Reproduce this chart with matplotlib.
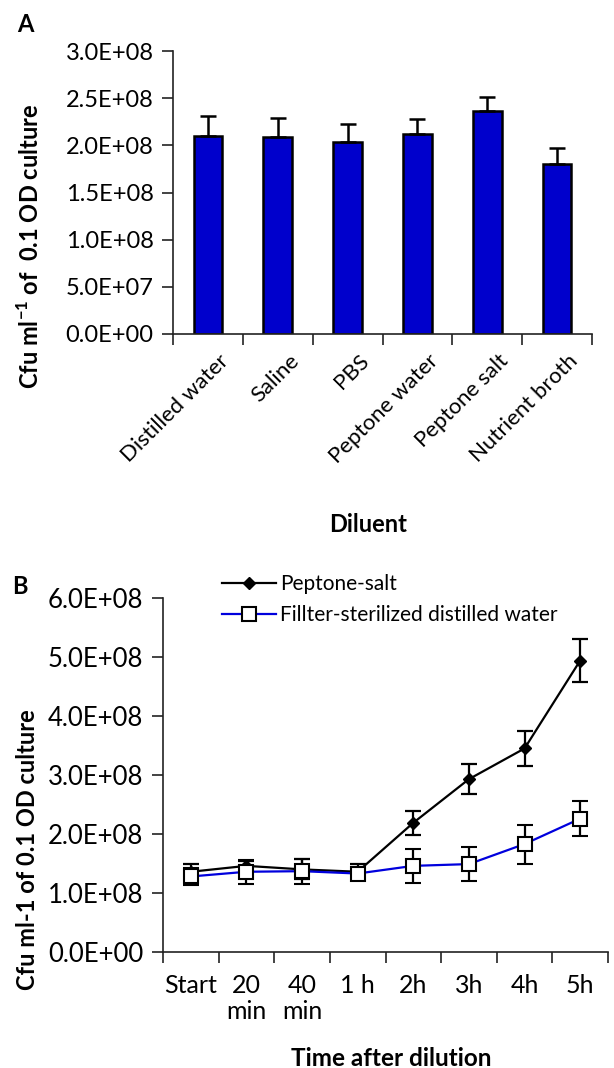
import matplotlib
matplotlib.use("Agg")
import matplotlib.pyplot as plt
import matplotlib.transforms as mtransforms
from matplotlib.ticker import FixedLocator, NullFormatter

plt.rcParams['font.family'] = ['Lato', 'DejaVu Sans']
plt.rcParams['mathtext.fontset'] = 'custom'
plt.rcParams['mathtext.bf'] = 'Lato:bold'
plt.rcParams['mathtext.rm'] = 'Lato'

# panel A: diluent comparison
diluents = ["Distilled water", "Saline", "PBS", "Peptone water", "Peptone salt", "Nutrient broth"]
cfu_diluent = [2.10e8, 2.09e8, 2.04e8, 2.12e8, 2.36e8, 1.80e8]
cfu_diluent_err = [0.21e8, 0.20e8, 0.19e8, 0.16e8, 0.15e8, 0.17e8]

# panel B: time course after dilution
time_labels = ["Start", "20\nmin", "40\nmin", "1 h", "2h", "3h", "4h", "5h"]
peptone_salt = [1.36e8, 1.46e8, 1.40e8, 1.36e8, 2.19e8, 2.93e8, 3.45e8, 4.94e8]
peptone_salt_err = [0.14e8, 0.08e8, 0.17e8, 0.14e8, 0.20e8, 0.25e8, 0.30e8, 0.37e8]
dist_water = [1.28e8, 1.36e8, 1.37e8, 1.33e8, 1.46e8, 1.49e8, 1.83e8, 2.26e8]
dist_water_err = [0.15e8, 0.20e8, 0.21e8, 0.05e8, 0.29e8, 0.29e8, 0.33e8, 0.30e8]

W, H = 614, 1068
fig = plt.figure(figsize=(W / 100, H / 100), dpi=100)


def frac_box(left, top, right, bottom):
    return [left / W, 1 - bottom / H, (right - left) / W, (bottom - top) / H]


def style_axes(ax, n, ylabelsize):
    for s in ("top", "right"):
        ax.spines[s].set_visible(False)
    for s in ("left", "bottom"):
        ax.spines[s].set_linewidth(1.2)
        ax.spines[s].set_color("#222222")
    ax.set_xlim(-0.5, n - 0.5)
    ax.xaxis.set_major_locator(FixedLocator([i - 0.5 for i in range(n + 1)]))
    ax.xaxis.set_major_formatter(NullFormatter())
    ax.xaxis.set_minor_locator(FixedLocator(list(range(n))))
    ax.tick_params(axis="x", which="major", length=8, width=1.2, direction="out", color="#222222")
    ax.tick_params(axis="x", which="minor", length=0)
    ax.tick_params(axis="y", length=8, width=1.2, direction="out", color="#222222",
                   labelsize=ylabelsize, pad=6)


# ---- panel A
axA = fig.add_axes(frac_box(173, 51, 592, 334))
xa = list(range(len(diluents)))
axA.bar(xa, cfu_diluent, width=0.41, color="#0000CC", edgecolor="black", linewidth=1.8,
        yerr=[[0] * len(xa), cfu_diluent_err], capsize=6,
        error_kw=dict(elinewidth=1.8, capthick=1.8, ecolor="black"))
style_axes(axA, len(diluents), 17)
axA.set_ylim(0, 3.0e8)
axA.set_yticks([i * 0.5e8 for i in range(7)])
axA.set_yticklabels([f"{v:.1E}" for v in axA.get_yticks()])
axA.set_xticks(xa, minor=True)
axA.set_xticklabels(diluents, minor=True, rotation=45, ha="right", va="top",
                    rotation_mode="anchor", fontsize=16)
axA.tick_params(axis="x", which="minor", pad=12)
# nudge rotated labels to the right so they end under the bar
shift = mtransforms.ScaledTranslation(11 / 100, 0, fig.dpi_scale_trans)
for lab in axA.get_xticklabels(minor=True):
    lab.set_transform(lab.get_transform() + shift)
fig.text(30 / W, 1 - 246 / H, "Cfu ml$^{\\mathbf{-1}}$ of  0.1 OD culture", rotation=90,
         ha="center", va="center", fontsize=17, fontweight="bold")
fig.text(368 / W, 1 - 524 / H, "Diluent", ha="center", va="center", fontsize=17, fontweight="bold")
fig.text(25 / W, 1 - 25 / H, "A", ha="center", va="center", fontsize=17, fontweight="bold")

# ---- panel B
axB = fig.add_axes(frac_box(163, 598, 608, 952))
xb = list(range(len(time_labels)))
axB.errorbar(xb, peptone_salt, yerr=peptone_salt_err, color="black", lw=1.6,
             marker="D", markersize=6, mfc="black", mec="black",
             ecolor="black", elinewidth=1.6, capsize=6, capthick=1.6, label="Peptone-salt", zorder=3)
axB.errorbar(xb, dist_water, yerr=dist_water_err, color="#0000DD", lw=1.6,
             marker="s", markersize=10, mfc="white", mec="black", mew=1.5,
             ecolor="black", elinewidth=1.6, capsize=6, capthick=1.6,
             label="Fillter-sterilized distilled water", zorder=4)
style_axes(axB, len(time_labels), 18.5)
axB.set_ylim(0, 6.0e8)
axB.set_yticks([i * 1e8 for i in range(7)])
axB.set_yticklabels([f"{v:.1E}" for v in axB.get_yticks()])
axB.set_xticklabels(time_labels, minor=True, fontsize=18, va="top", linespacing=1.15)
axB.tick_params(axis="x", which="minor", pad=16)
handles, labels = axB.get_legend_handles_labels()
handles = [h[0] for h in handles]
fig.legend(handles, labels, loc="upper left", bbox_to_anchor=(222 / W, 1 - 574 / H),
           frameon=False, fontsize=15, handlelength=2.6, handletextpad=0.2, labelspacing=0.55,
           borderaxespad=0, borderpad=0)
fig.text(28 / W, 1 - 850 / H, "Cfu ml-1 of 0.1 OD culture", rotation=90,
         ha="center", va="center", fontsize=17, fontweight="bold")
fig.text(391 / W, 1 - 1058 / H, "Time after dilution", ha="center", va="center",
         fontsize=17.5, fontweight="bold")
fig.text(20 / W, 1 - 587 / H, "B", ha="center", va="center", fontsize=17, fontweight="bold")

fig.savefig("out.png", dpi=100)
